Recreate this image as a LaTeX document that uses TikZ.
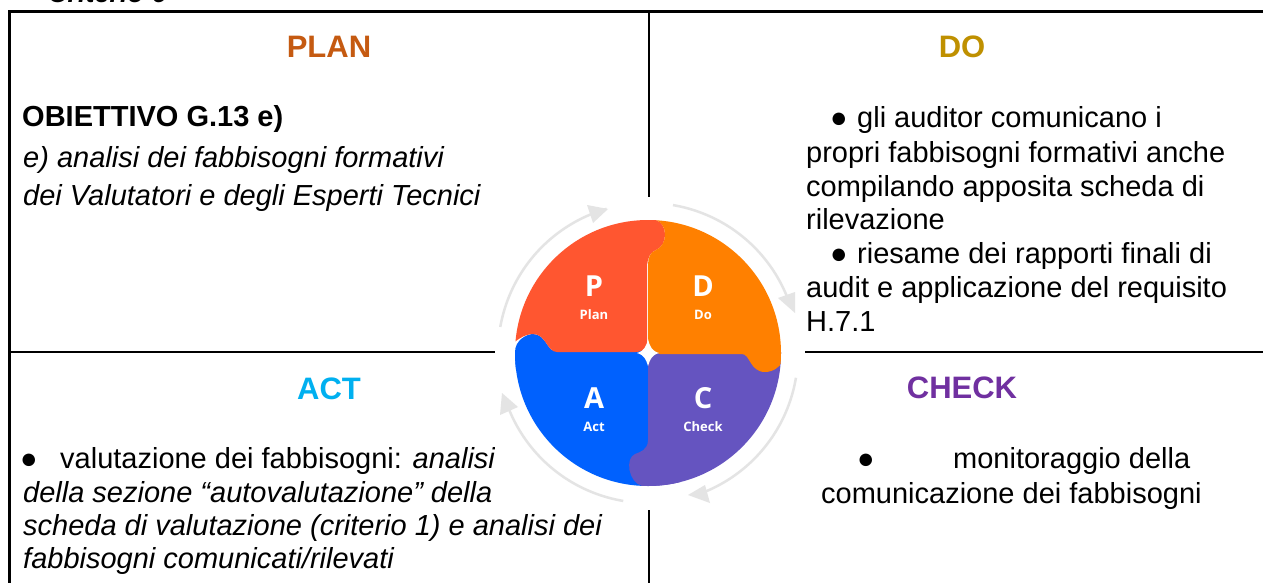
\documentclass[tikz,border=0pt]{standalone}
\usepackage{fontspec}
\setmainfont{Liberation Sans}
\newfontfamily\imgfont{Open Sans}
\usetikzlibrary{arrows.meta}
\definecolor{planc}{HTML}{C55A11}
\definecolor{doc}{HTML}{BF9000}
\definecolor{actc}{HTML}{00B0F0}
\definecolor{checkc}{HTML}{7030A0}
\definecolor{pred}{HTML}{FF5630}
\definecolor{dor}{HTML}{FF8000}
\definecolor{ablue}{HTML}{0061FE}
\definecolor{cpur}{HTML}{6554C0}
\definecolor{ringc}{HTML}{E4E4E4}
\newcommand{\bsize}{\fontsize{29}{35}\selectfont}
\tikzset{
  x=1pt,y=-1pt,
  grid/.style={line width=2.8pt,black},
  head/.style={font=\fontsize{31}{35}\selectfont\bfseries,anchor=base},
  body/.style={font=\bsize,anchor=base west,inner sep=0pt},
  bodyit/.style={font=\bsize\itshape,anchor=base west,inner sep=0pt},
  letter/.style={font=\fontsize{29}{30}\selectfont\imgfont\bfseries,text=white,anchor=base,inner sep=0pt},
  sub/.style={font=\fontsize{13}{16}\selectfont\imgfont\bfseries,text=white,anchor=base,inner sep=0pt},
  ring/.style={line width=2.5pt,ringc},
  ringtip/.style={fill=ringc,draw=none}
}
\begin{document}
\begin{tikzpicture}
\useasboundingbox (0,0) rectangle (1263,583);
\fill[white] (0,0) rectangle (1263,583);
\node[body,font=\fontsize{27}{35}\selectfont\bfseries\itshape] (crit) at (48,3) {Criterio 6};
% grid
\coordinate (tl) at (9.5,11.5); \coordinate (tr) at (1263,11.5);
\coordinate (bl) at (9.5,583); \coordinate (tm) at (649,11.5);
\coordinate (bm) at (649,583); \coordinate (ml) at (9.5,352); \coordinate (mr) at (1263,352);
\draw[grid] (bl) -- (tl) -- (tr);
\draw[grid] (tm) -- (bm);
\draw[grid] (ml) -- (mr);
% headers
\node[head,text=planc] (plan) at (329,58) {PLAN};
\node[head,text=doc] (do) at (962,58) {DO};
\node[head,text=actc] (act) at (329,399) {ACT};
\node[head,text=checkc] (check) at (962,398) {CHECK};
% plan text
\node[body,font=\bsize\bfseries] (p1) at (22,127) {OBIETTIVO G.13 e)};
\node[bodyit] (p2) at (23,167) {e) analisi dei fabbisogni formativi};
\node[bodyit] (p3) at (23,205) {dei Valutatori e degli Esperti Tecnici};
% do text
\node[body] (d1) at (830,128) {\makebox[27pt][l]{●}gli auditor comunicano i};
\node[body] (d2) at (806,162) {propri fabbisogni formativi anche};
\node[body] (d3) at (806,196) {compilando apposita scheda di};
\node[body] (d4) at (806,229) {rilevazione};
\node[body] (d5) at (830,263) {\makebox[27pt][l]{●}riesame dei rapporti finali di};
\node[body] (d6) at (806,297) {audit e applicazione del requisito};
\node[body] (d7) at (806,331) {H.7.1};
% act text
\node[body] (a1) at (20,468) {\makebox[40pt][l]{●}valutazione dei fabbisogni: \textit{analisi}};
\node[bodyit] (a2) at (23,502) {della sezione “autovalutazione” della};
\node[bodyit] (a3) at (23,535) {scheda di valutazione (criterio 1) e analisi dei};
\node[bodyit] (a4) at (23,568) {fabbisogni comunicati/rilevati};
% check text
\node[body] (c1) at (857,468) {\makebox[96pt][l]{●}monitoraggio della};
\node[body] (c2) at (821,503) {comunicazione dei fabbisogni};
% PDCA image
\fill[white] (495,197) rectangle (805,510);
\begin{scope}
\clip (648,353) circle (133);
\fill[ablue] (510,350) rectangle (650,490);
\fill[cpur] (648,350) rectangle (790,490);
% Act bump
\fill[ablue] (515,352) .. controls (515,340) and (527,334) .. (533,334)
  .. controls (546,334) and (547,352) .. (557,352) -- (560,370) -- (515,370) -- cycle;
% Plan
\fill[pred] (512,340) -- (512,215) -- (650,215) -- (656,220)
  .. controls (668,224) and (668,245) .. (656,250)
  .. controls (650,252) and (648,258) .. (647,265) -- (647,345)
  .. controls (645,350) and (640,352) .. (636,352) -- (557,352)
  .. controls (547,352) and (546,334) .. (533,334)
  .. controls (525,334) and (516,340) .. (512,345) -- cycle;
% Do
\fill[dor] (656,220) .. controls (668,224) and (668,245) .. (656,250)
  .. controls (650,252) and (648,258) .. (648,265) -- (648,342)
  .. controls (649,349) and (654,353) .. (660,354) -- (742,354)
  .. controls (750,354) and (750,372) .. (765,372)
  .. controls (773,372) and (780,367) .. (783,361) -- (790,361) -- (790,210) -- (650,210) -- cycle;
% Check bump
\fill[cpur] (648,440) .. controls (648,450) and (640,452) .. (635,454)
  .. controls (625,458) and (628,482) .. (642,486) -- (650,495) -- (680,490) -- (680,440) -- cycle;
\end{scope}
% centre star
\fill[white] (648,339) .. controls (650,347) and (652,351) .. (659,353)
  .. controls (652,355) and (650,359) .. (648,366)
  .. controls (646,359) and (644,355) .. (637,353)
  .. controls (644,351) and (646,347) .. (648,339) -- cycle;
% labels
\node[letter] (lp) at (594,296) {P};
\node[sub] (sp) at (594,319) {Plan};
\node[letter] (ld) at (703,296) {D};
\node[sub] (sd) at (703,319) {Do};
\node[letter] (la) at (594,408) {A};
\node[sub] (sa) at (594,431) {Act};
\node[letter] (lc) at (703,408) {C};
\node[sub] (sc) at (703,431) {Check};
% ring arrows
\draw[ring] plot[domain=190:254,samples=30,smooth] ({648+150*cos(\x)},{353+150*sin(\x)});
\fill[ringtip] (587,205) -- (593,223) -- (608,209) -- cycle;
\draw[ring] plot[domain=-80.4:-19,samples=30,smooth] ({648+150*cos(\x)},{353+150*sin(\x)});
\fill[ringtip] (778,298) -- (795,292) -- (795,313) -- cycle;
\draw[ring] plot[domain=9.5:69.6,samples=30,smooth] ({648+150*cos(\x)},{353+150*sin(\x)});
\fill[ringtip] (688,495) -- (705,485) -- (710,503) -- cycle;
\draw[ring] plot[domain=99.5:159,samples=30,smooth] ({648+150*cos(\x)},{353+150*sin(\x)});
\fill[ringtip] (500,415) -- (502,393) -- (518,407) -- cycle;
\end{tikzpicture}
\end{document}
